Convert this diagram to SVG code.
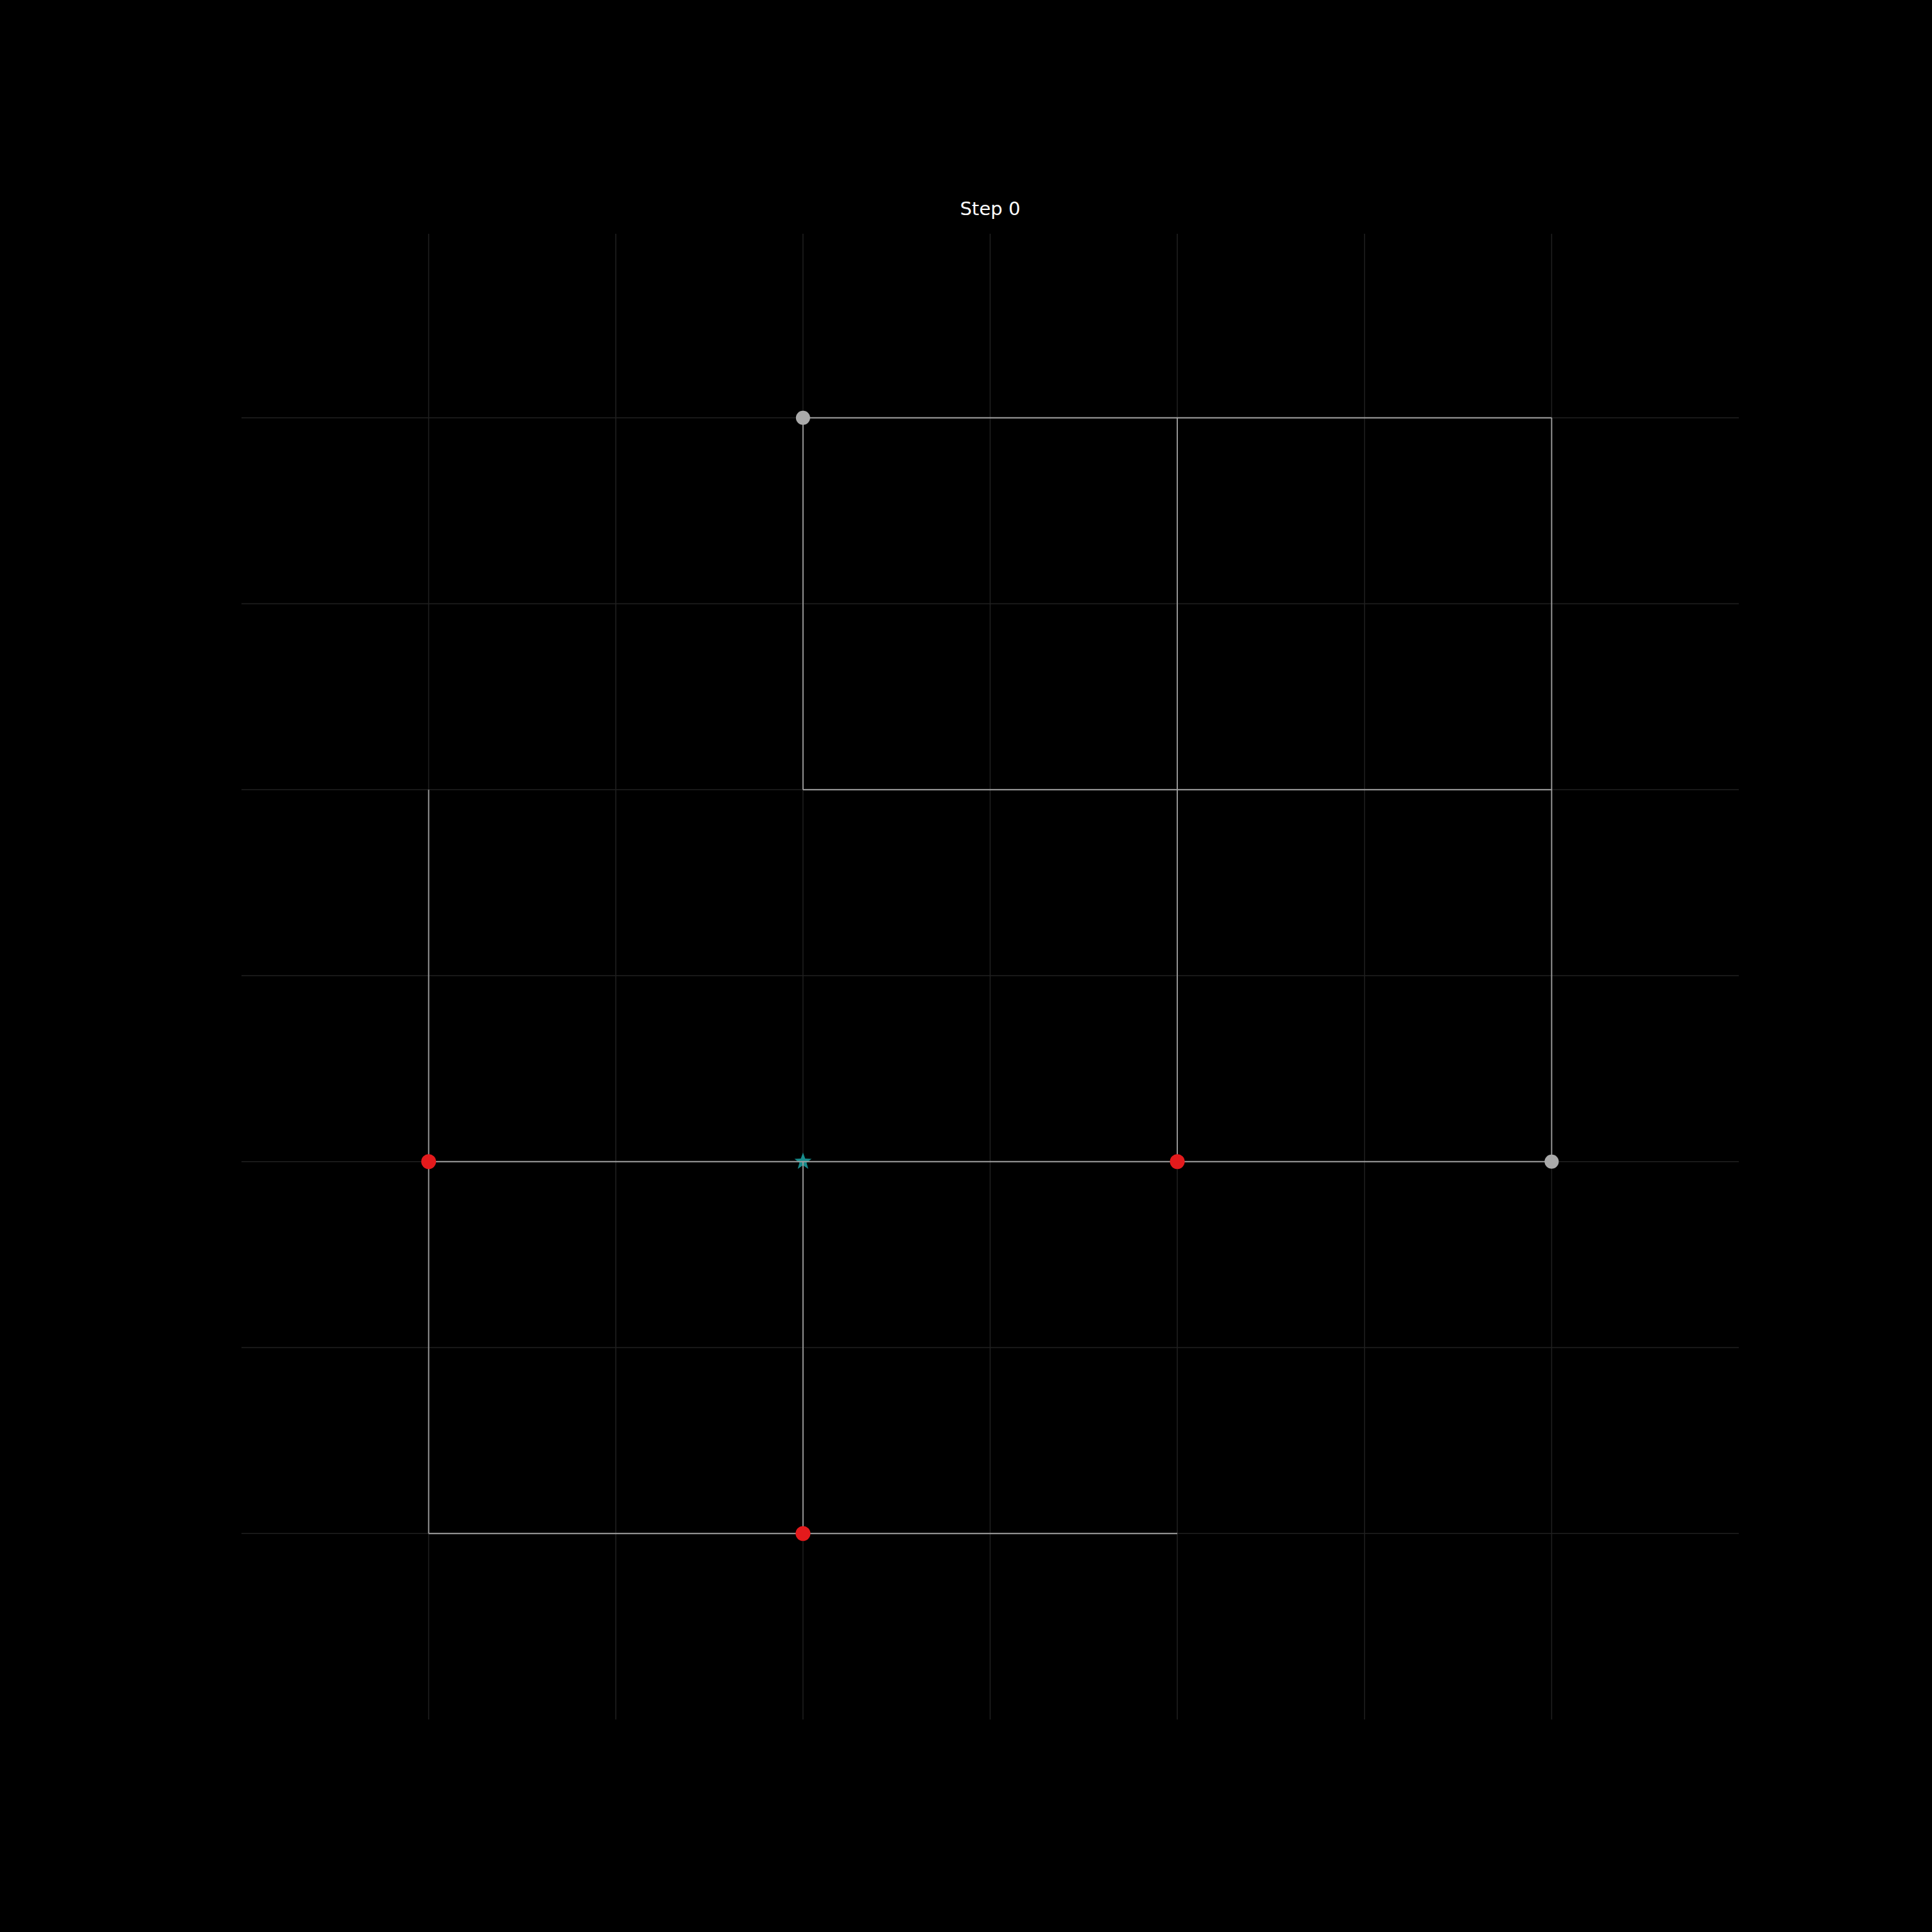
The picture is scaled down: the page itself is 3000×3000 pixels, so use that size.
<svg xmlns="http://www.w3.org/2000/svg" width="3000" height="3000" viewBox="0 0 3000 3000">
<style>
.grid{stroke:#202020;stroke-width:1.5;fill:none}
.edge{stroke:#a0a0a0;stroke-width:1.8;fill:none}
.title{font-family:"DejaVu Sans",sans-serif;font-size:29px;fill:#ffffff;text-anchor:middle}
</style>
<rect x="0" y="0" width="3000" height="3000" fill="#000000"/>
<g id="grid">
<path class="grid" d="M665.6,363V2670M956.25,363V2670M1246.9,363V2670M1537.5,363V2670M1828.1,363V2670M2118.75,363V2670M2409.4,363V2670"/>
<path class="grid" d="M375,648.75H2700M375,937.5H2700M375,1226.25H2700M375,1515H2700M375,1803.75H2700M375,2092.5H2700M375,2381.25H2700"/>
</g>
<text class="title" x="1537.5" y="334">Step 0</text>
<g id="star">
<path d="M1246.9,1789.75L1250.3,1799.1L1260.2,1799.4L1252.4,1805.5L1255.1,1815.1L1246.9,1809.5L1238.7,1815.1L1241.4,1805.5L1233.6,1799.4L1243.5,1799.1Z" fill="#1a9a9a" fill-opacity="0.9"/>
</g>
<g id="connectors">
<path class="edge" d="M1246.9,648.75H2409.4"/>
<path class="edge" d="M1246.9,648.75V1226.25"/>
<path class="edge" d="M1246.9,1226.25H2409.4"/>
<path class="edge" d="M2409.4,648.75V1803.75"/>
<path class="edge" d="M1828.1,648.75V1803.75"/>
<path class="edge" d="M665.6,1803.75H2409.4"/>
<path class="edge" d="M665.6,1226.25V2381.25"/>
<path class="edge" d="M665.6,2381.25H1828.1" stroke="#9a9ab4"/>
<path class="edge" d="M1246.9,1803.75V2381.25"/>
</g>
<g id="node-top"><circle cx="1246.9" cy="648.75" r="11" fill="#aaaaaa"/></g>
<g id="node-right"><circle cx="2409.4" cy="1803.75" r="11" fill="#aaaaaa"/></g>
<g id="node-left"><circle cx="665.6" cy="1803.75" r="11.5" fill="#e41a1c"/></g>
<g id="node-mid"><circle cx="1828.1" cy="1803.75" r="11.5" fill="#e41a1c"/></g>
<g id="node-bottom"><circle cx="1246.9" cy="2381.25" r="11.5" fill="#e41a1c"/></g>
</svg>
